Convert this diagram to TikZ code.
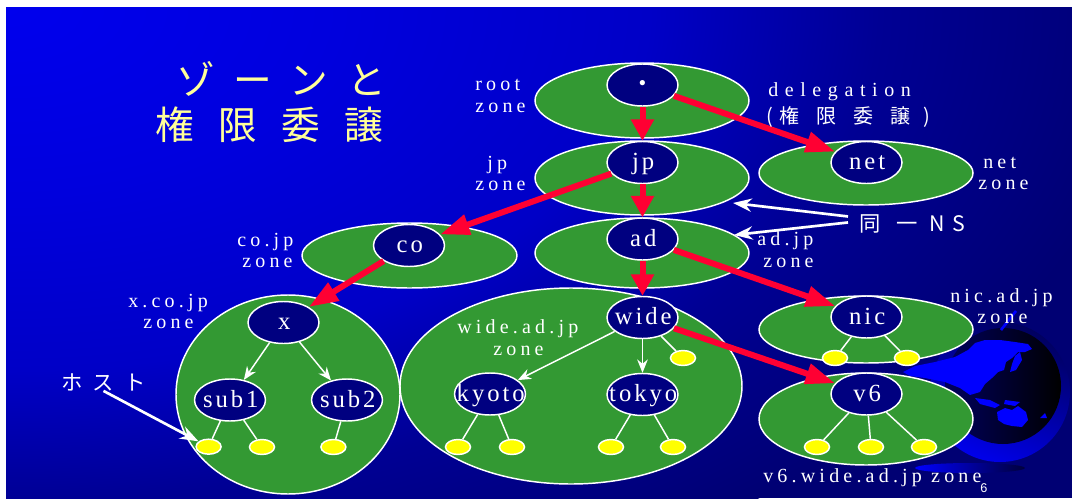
\documentclass[tikz,border=0pt]{standalone}
\usepackage{fontspec}
\setmainfont{Liberation Serif}
\newfontfamily\jpfont{Noto Sans CJK JP}
\newfontfamily\numfont{Liberation Sans}
\usetikzlibrary{shapes.geometric,arrows.meta}

\definecolor{zonegreen}{RGB}{51,153,51}
\definecolor{nodenavy}{RGB}{0,0,128}
\definecolor{hostyellow}{RGB}{255,255,0}
\definecolor{delred}{RGB}{255,0,51}
\definecolor{titleyellow}{RGB}{255,255,153}
\definecolor{landblue}{RGB}{0,0,255}
\definecolor{ringdark}{RGB}{0,0,95}
\definecolor{ringbright}{RGB}{0,0,235}
\definecolor{sphereleft}{RGB}{0,0,95}
\definecolor{shadowdark}{RGB}{0,0,60}
\definecolor{bgfar}{rgb}{0,0,0.45}

% slide background: bright blue in the upper left corner, darker towards the other corners
\pgfdeclareradialshading{slidebg}{\pgfpoint{0bp}{0bp}}{%
  rgb(0bp)=(0,0,0.93); rgb(7bp)=(0,0,0.87); rgb(14bp)=(0,0,0.78);
  rgb(19bp)=(0,0,0.58); rgb(25bp)=(0,0,0.45); rgb(50bp)=(0,0,0.45)}

% zero-width box so that the ellipse size is set by its minimum size only
\newcommand\zbox[1]{\makebox[0pt]{\hspace{0.06em}#1}}
\newcommand\lblfont{\fontsize{15pt}{15pt}\selectfont}

\begin{document}
\begin{tikzpicture}[x=0.75pt,y=-0.75pt,
  zone/.style={ellipse, draw=white, fill=zonegreen, line width=1.1pt, inner sep=0pt},
  dom/.style={ellipse, draw=white, fill=nodenavy, line width=1.1pt, inner sep=0pt,
    minimum width=53.25pt, minimum height=31.5pt, text=white,
    text height=10.5pt, text depth=0pt,
    font=\fontsize{18.5pt}{20pt}\selectfont\addfontfeatures{LetterSpace=12}},
  host/.style={ellipse, draw=white, fill=hostyellow, line width=1.1pt, inner sep=0pt,
    minimum width=18.75pt, minimum height=11.25pt},
  link/.style={white, line width=1.1pt},
  subarrow/.style={white, line width=1.1pt, -{Stealth[length=10pt,width=8pt]}},
  deleg/.style={delred, line width=4.5pt, -{Triangle[length=22pt,width=15pt]}},
  delegv/.style={delred, line width=4.5pt, -{Triangle[length=16pt,width=16.5pt]}},
  pointer/.style={white, line width=2pt, -{Stealth[length=14pt,width=10pt]}},
  lbl/.style={text=white, anchor=base west, inner sep=0pt,
    font={\lblfont\addfontfeatures{LetterSpace=21}}},
  jplbl/.style={text=white, anchor=base west, inner sep=0pt},
]
\useasboundingbox (0,0) rectangle (1072,500);

% background
\fill[white] (0,0) rectangle (1072,500);
\begin{scope}
  \clip (6,7) rectangle (1072,498);
  \fill[bgfar] (6,7) rectangle (1072,498);
  \shade[shading=slidebg] (6,7) ellipse [x radius=1150, y radius=650];
\end{scope}

% globe
\shade[left color=landblue, right color=shadowdark] (970,468) ellipse [x radius=55, y radius=5];
\shade[top color=ringdark, bottom color=ringbright, shading angle=-25] (1000,392) circle [radius=70];
\shade[left color=sphereleft, right color=black] (1003,386) circle [radius=58];
\fill[landblue] (903,372) -- (915,366) -- (935,362) -- (955,357) -- (968,350) -- (975,343)
  -- (985,340) -- (1000,340) -- (1015,342) -- (1028,344) -- (1032,349) -- (1025,352)
  -- (1018,352) -- (1012,358) -- (1006,362) -- (1004,370) -- (998,372) -- (992,378)
  -- (985,384) -- (980,392) -- (970,395) -- (960,388) -- (945,382) -- (925,378)
  -- (910,376) -- cycle;
\fill[landblue] (1015,356) -- (1020,352) -- (1022,360) -- (1016,370) -- (1010,372) -- (1012,364) -- cycle;
\fill[landblue] (975,398) -- (990,400) -- (1000,405) -- (995,408) -- (980,404) -- cycle;
\fill[landblue] (1005,400) -- (1020,402) -- (1015,406) -- (1004,404) -- cycle;
\fill[landblue] (997,412) -- (1005,408) -- (1012,410) -- (1018,406) -- (1026,412) -- (1028,420)
  -- (1022,427) -- (1012,426) -- (1004,424) -- (998,420) -- cycle;
\fill[landblue] (1040,418) -- (1045,413) -- (1047,418) -- cycle;
\draw[landblue, line width=2pt] (1001,330) -- (1016,311);

% zones
\node[zone, minimum width=160.5pt, minimum height=56.25pt] (rootz) at (642,100.5) {};
\node[zone, minimum width=160.5pt, minimum height=55.5pt] (jpz) at (642,178) {};
\node[zone, minimum width=160.5pt, minimum height=48pt] (netz) at (866,173) {};
\node[zone, minimum width=161.25pt, minimum height=48.75pt] (coz) at (409.5,255.5) {};
\node[zone, minimum width=160.5pt, minimum height=52.5pt] (adz) at (642,253) {};
\node[zone, minimum width=168pt, minimum height=149.25pt] (xz) at (288,394.5) {};
\node[zone, minimum width=256.5pt, minimum height=147pt] (widez) at (571,386) {};
\node[zone, minimum width=160.5pt, minimum height=50.25pt] (nicz) at (866,329.5) {};
\node[zone, minimum width=160.5pt, minimum height=69pt] (v6z) at (866,419) {};

% domain nodes
\node[dom] (root) at (642.5,85) {\zbox{\jpfont ・}};
\node[dom] (jp) at (642.5,162.5) {\zbox{jp}};
\node[dom] (net) at (866.5,162.5) {\zbox{net}};
\node[dom] (co) at (409,245.5) {\zbox{co}};
\node[dom] (ad) at (642.5,239) {\zbox{ad}};
\node[dom] (x) at (283.5,322.5) {\zbox{x}};
\node[dom] (sub1) at (230,400) {\zbox{sub1}};
\node[dom] (sub2) at (347,400) {\zbox{sub2}};
\node[dom] (wide) at (642.5,317.5) {\zbox{wide}};
\node[dom] (kyoto) at (490,394) {\zbox{kyoto}};
\node[dom] (tokyo) at (642.5,394.5) {\zbox{tokyo}};
\node[dom] (nic) at (866.5,317) {\zbox{nic}};
\node[dom] (v6) at (866.5,394) {\zbox{v6}};

% hosts
\node[host] (s1a) at (208.6,446.7) {};
\node[host] (s1b) at (262,447) {};
\node[host] (s2a) at (333.4,447) {};
\node[host] (ky1) at (458,447) {};
\node[host] (ky2) at (512,447) {};
\node[host] (wh) at (683,358) {};
\node[host] (tk1) at (611,447) {};
\node[host] (tk2) at (673,447) {};
\node[host] (nc1) at (835,358) {};
\node[host] (nc2) at (907,358) {};
\node[host] (v61) at (817,447) {};
\node[host] (v62) at (871,447) {};
\node[host] (v63) at (924,447) {};

% host links
\draw[link] (sub1) -- (s1a);
\draw[link] (sub1) -- (s1b);
\draw[link] (sub2) -- (s2a);
\draw[link] (kyoto) -- (ky1);
\draw[link] (kyoto) -- (ky2);
\draw[link] (wide) -- (wh);
\draw[link] (tokyo) -- (tk1);
\draw[link] (tokyo) -- (tk2);
\draw[link] (nic) -- (nc1);
\draw[link] (nic) -- (nc2);
\draw[link] (v6) -- (v61);
\draw[link] (v6) -- (v62);
\draw[link] (v6) -- (v63);

% subdomains inside a zone
\draw[subarrow] (x) -- (sub1);
\draw[subarrow] (x) -- (sub2);
\draw[subarrow] (wide) -- (kyoto);
\draw[subarrow] (wide) -- (tokyo);

% delegations
\draw[delegv] (root) -- (jp);
\draw[deleg] (root) -- (net);
\draw[delegv] (jp) -- (ad);
\draw[deleg] (jp) -- (co);
\draw[deleg] (co) -- (x);
\draw[delegv] (ad) -- (wide);
\draw[deleg] (ad) -- (nic);
\draw[deleg] (wide) -- (v6);

% title
\node[jplbl, text=titleyellow, font={\jpfont\fontsize{29pt}{29pt}\selectfont\addfontfeatures{LetterSpace=49}}] (title1) at (176,94) {ゾーンと};
\node[jplbl, text=titleyellow, font={\jpfont\fontsize{29pt}{29pt}\selectfont\addfontfeatures{LetterSpace=63}}] (title2) at (155,139) {権限委譲};

% zone labels
\node[lbl] (rootl1) at (475,90) {root};
\node[lbl] (rootl2) at (475,112) {zone};
\node[lbl] (jpl1) at (487,169) {jp};
\node[lbl] (jpl2) at (475,190) {zone};
\node[lbl] (netl1) at (983,168) {net};
\node[lbl] (netl2) at (978,189) {zone};
\node[lbl] (col1) at (237,246) {co.jp};
\node[lbl] (col2) at (242,267) {zone};
\node[lbl] (adl1) at (757,245) {ad.jp};
\node[lbl] (adl2) at (763,267) {zone};
\node[lbl] (xl1) at (128,307) {x.co.jp};
\node[lbl] (xl2) at (143,328) {zone};
\node[lbl] (widel1) at (457,333) {wide.ad.jp};
\node[lbl] (widel2) at (493,355) {zone};
\node[lbl] (nicl1) at (950,302) {nic.ad.jp};
\node[lbl] (nicl2) at (977,323) {zone};
\node[lbl] (v6l) at (763,482) {v6.wide.ad.jp zone};

% delegation caption
\node[lbl, font={\lblfont\addfontfeatures{LetterSpace=33}}] (delg) at (768,96) {delegation};
\node[jplbl, font={\jpfont\fontsize{15pt}{15pt}\selectfont}] (delgjp) at (766,123)
  {(\hspace{4.5pt}{\addfontfeatures{LetterSpace=85}権限委譲}\hspace{10pt})};

% same name server
\node[jplbl, font={\jpfont\fontsize{16pt}{16pt}\selectfont}] (ns) at (859,231) {同\hspace{12pt}一\hspace{9pt}N\hspace{5pt}S};
\coordinate (nsA) at ([shift={(-11,-7)}]ns.west);
\coordinate (nsB) at ([shift={(-11,-1)}]ns.west);
\coordinate (jpzNS) at (733,203);
\coordinate (adzNS) at (734,235);
\draw[pointer] (nsA) -- (jpzNS);
\draw[pointer] (nsB) -- (adzNS);

% host caption
\node[jplbl, font={\jpfont\fontsize{16pt}{16pt}\selectfont\addfontfeatures{LetterSpace=48}}] (hostlbl) at (61,390) {ホスト};
\draw[pointer] (hostlbl.south) -- (s1a);

% page number
\node[jplbl, font={\numfont\fontsize{9.5pt}{9.5pt}\selectfont}] (pg) at (980,492) {6};
\end{tikzpicture}
\end{document}
